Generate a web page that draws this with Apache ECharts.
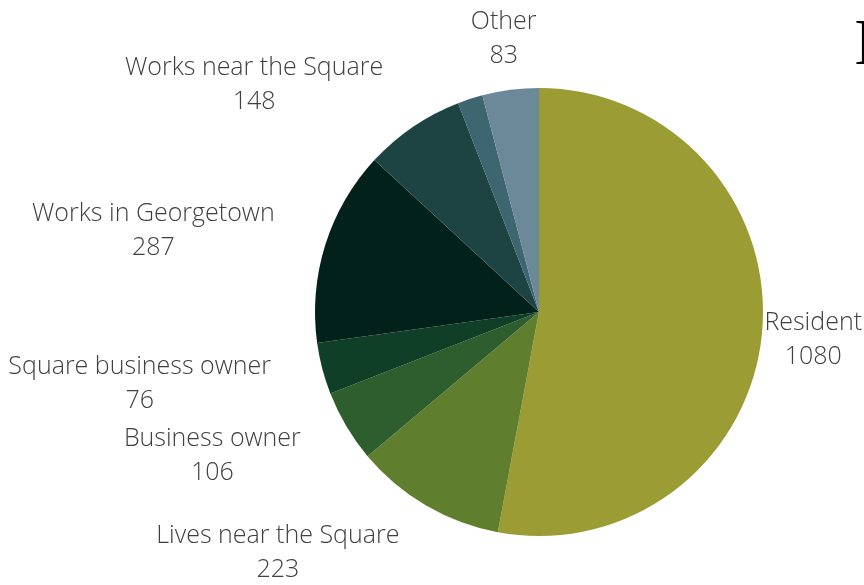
<!DOCTYPE html>
<html>
<head>
<meta charset="utf-8">
<script src="https://cdn.jsdelivr.net/npm/echarts@6/dist/echarts.min.js"></script>
<style>html,body{margin:0;padding:0;background:#fff;}#chart{width:864px;height:585px;}</style>
</head>
<body>
<div id="chart"></div>
<script>
const categories = ['Resident', 'Lives near the Square', 'Business owner', 'Square business owner', 'Works in Georgetown', 'Works near the Square', '', 'Other'];
const values = [1080, 223, 106, 76, 287, 148, 37, 83];
const colors = ['#9b9c33', '#5f7f2f', '#2f5e2e', '#0f3f27', '#02211a', '#1e4343', '#3e6670', '#6c899a'];

const CX = 539, CY = 312, R = 224;
const total = values.reduce((a, b) => a + b, 0);
const cum = [];
values.reduce((acc, v, i) => { cum[i] = acc; return acc + v; }, 0);

const chart = echarts.init(document.getElementById('chart'));
chart.setOption({
  animation: false,
  graphic: [{
    type: 'text', left: 854, top: 14,
    style: { text: 'I', font: '66px "Liberation Serif"', fill: '#000' }
  }],
  series: [{
    type: 'pie',
    center: [CX, CY],
    radius: R,
    startAngle: 90,
    clockwise: true,
    avoidLabelOverlap: false,
    data: categories.map((c, i) => ({ name: c, value: values[i], itemStyle: { color: colors[i] } })),
    itemStyle: { borderWidth: 0 },
    label: {
      show: true,
      position: 'outside',
      formatter: p => p.name ? p.name + '\n' + p.value : '',
      fontFamily: 'Open Sans',
      fontWeight: 300,
      fontSize: 25,
      lineHeight: 34,
      color: '#404040'
    },
    labelLine: { show: false },
    labelLayout: function (params) {
      const i = params.dataIndex;
      const a = 2 * Math.PI * (cum[i] + values[i] / 2) / total;
      const ux = Math.sin(a), uy = -Math.cos(a);
      const w = params.labelRect.width;
      let x = CX + R * ux + 53 * ux + (Math.abs(ux) > 0.3 ? Math.sign(ux) * w / 2 : 0);
      let y = CY + R * uy + 53 * uy + 2;
      if (x + w / 2 > 862) x = 862 - w / 2;
      if (x - w / 2 < 3) x = 3 + w / 2;
      return { x: x, y: y, align: 'center', verticalAlign: 'middle', hideOverlap: false };
    }
  }]
});
</script>
</body>
</html>
